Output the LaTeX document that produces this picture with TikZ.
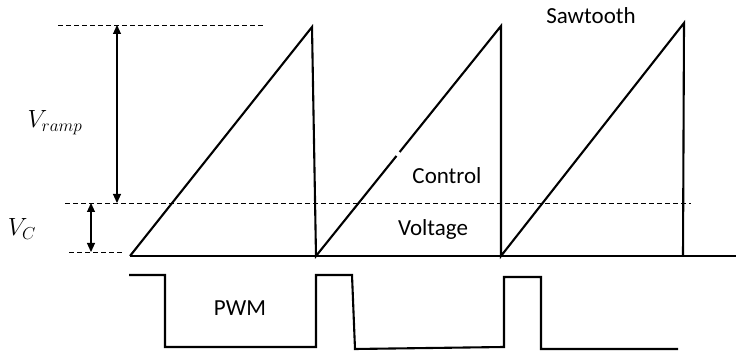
\documentclass[tikz,border=0pt]{standalone}
\usepackage{fontspec}
\setmainfont{Carlito}
\usetikzlibrary{arrows.meta,calc}
\tikzset{
  wave/.style={line width=2.1pt, line join=miter, line cap=butt},
  guide/.style={line width=0.9pt, dash pattern=on 5pt off 3pt},
  dimarrow/.style={line width=1.1pt, {Triangle[length=9pt,width=8pt]}-{Triangle[length=9pt,width=8pt]}},
  lbl/.style={inner sep=0pt, font=\fontsize{23}{27}\selectfont},
  mlbl/.style={inner sep=0pt, font=\fontsize{26}{30}\selectfont}
}
\begin{document}
\begin{tikzpicture}[x=1pt,y=-1pt]
\useasboundingbox (0,0) rectangle (736,352);
% guide coordinates
\coordinate (t1) at (58,25);   \coordinate (t2) at (263,25);
\coordinate (c1) at (65,203);  \coordinate (c2) at (691,203);
\coordinate (b1) at (69,252);  \coordinate (b2) at (122,252);
\draw[guide] (t1) -- (t2);
\draw[guide] (c1) -- (c2);
\draw[guide] (b1) -- (b2);
% dimension arrows
\coordinate (ra) at (117,25);  \coordinate (rb) at (117,203);
\coordinate (va) at (91,203);  \coordinate (vb) at (91,252);
\draw[dimarrow] (ra) -- (rb);
\draw[dimarrow] (va) -- (vb);
% sawtooth
\coordinate (s0) at (130,256);
\coordinate (p1) at (312,27);  \coordinate (s1) at (316,256);
\coordinate (p2) at (501,26);  \coordinate (s2) at (501,256);
\coordinate (p3) at (684,23);  \coordinate (s3) at (683,256);
\coordinate (bend) at (736,256);
\coordinate (g1) at ($(s1)!0.435!(p2)$);
\coordinate (g2) at ($(s1)!0.452!(p2)$);
\draw[wave] (s0) -- (bend);
\draw[wave] (s0) -- (p1) -- (s1) -- (g1);
\draw[wave] (g2) -- (p2) -- (s2) -- (p3) -- (s3);
% PWM
\coordinate (w0) at (129,275);
\coordinate (w1) at (165,275);
\coordinate (w2) at (165,347);
\coordinate (w3) at (316,347);
\coordinate (w4) at (316,275);
\coordinate (w5) at (352,275);
\coordinate (w6) at (355,349);
\coordinate (w7) at (504,347);
\coordinate (w8) at (504,277);
\coordinate (w9) at (541,277);
\coordinate (w10) at (541,349);
\coordinate (w11) at (678,349);
\draw[wave] (w0) -- (w1) -- (w2) -- (w3) -- (w4) -- (w5) -- (w6) -- (w7) -- (w8) -- (w9) -- (w10) -- (w11);
% labels
\node[lbl] (saw) at (591,16) {Sawtooth};
\node[lbl] (ctl) at (447,176) {Control};
\node[lbl] (vol) at (433,229) {Voltage};
\node[lbl] (pwm) at (240,308) {PWM};
\node[mlbl] (vr) at (55,123) {$V_{ramp}$};
\node[mlbl] (vc) at (22,229) {$V_{C}$};
\end{tikzpicture}
\end{document}
